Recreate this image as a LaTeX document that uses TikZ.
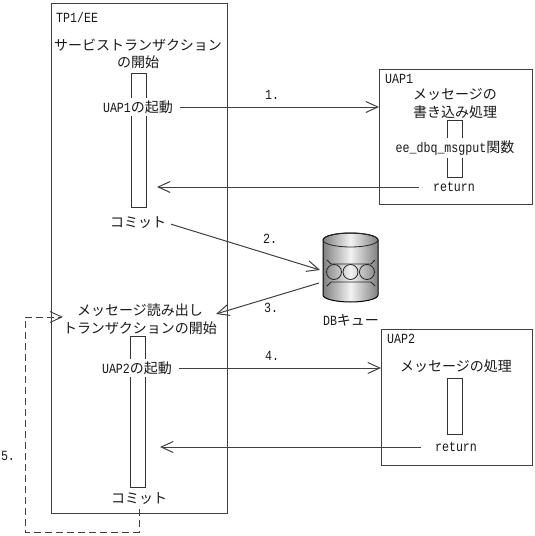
\documentclass[tikz,border=0pt]{standalone}
\usepackage{fontspec}
\setmainfont{Noto Sans CJK JP}
\newfontfamily\latfont[FakeStretch=0.83]{Liberation Mono}
\newcommand{\lat}[1]{{\latfont\fontsize{14}{17}\selectfont #1}}
\usetikzlibrary{arrows.meta}
\begin{document}
\begin{tikzpicture}[
      x=1pt, y=-1pt,
      box/.style={rectangle, draw=black!75, line width=1pt, outer sep=0pt, inner sep=0pt},
      bar/.style={rectangle, draw=black!80, fill=white, line width=1pt, outer sep=0pt, inner sep=0pt, minimum width=15},
      txt/.style={inner sep=1pt, align=center, text=black!90, font=\fontsize{14}{17.5}\selectfont},
      cover/.style={txt, fill=white, inner ysep=3pt},
      flow/.style={draw=black!75, line width=1pt, -{Straight Barb[length=12pt,width=11pt]}},
      dbbody/.style={draw=black, line width=1pt, left color=black!50, right color=black!50, middle color=black!5},
      dbmark/.style={draw=black!85, line width=0.8pt}
    ]
    \useasboundingbox (0,0) rectangle (535,536);
    \node[box, minimum width=176, minimum height=510] (tp) at (139,258) {};
    \node[box, minimum width=153, minimum height=135] (uapa) at (455.5,136.5) {};
    \node[box, minimum width=151, minimum height=136] (uapb) at (456.5,397) {};

    \node[bar, minimum height=134] (bara) at (138.5,140) {};
    \node[bar, minimum height=151] (barb) at (137.5,411.5) {};
    \node[bar, minimum height=57] (barc) at (454.5,148.5) {};
    \node[bar, minimum height=56] (bard) at (455,406) {};

    \node[txt, anchor=west] (tptitle) at (55,17) {\lat{TP1/EE}};
    \node[txt] (svcstart) at (138,54) {サービストランザクション\\の開始};
    \node[cover] (starta) at (138,107) {\lat{UAP1}の起動};
    \node[txt] (commita) at (138,223) {コミット};
    \node[txt] (readstart) at (140,319) {メッセージ読み出し\\トランザクションの開始};
    \node[cover] (startb) at (137,368) {\lat{UAP2}の起動};
    \node[txt] (commitb) at (139,499) {コミット};

    \node[txt, anchor=west] (uapatitle) at (384,79) {\lat{UAP1}};
    \node[txt] (writeproc) at (455,103.5) {メッセージの\\書き込み処理};
    \node[cover] (putfunc) at (455,148) {\lat{ee\_dbq\_msgput}関数};
    \node[txt] (returna) at (454,187) {\lat{return}};
    \node[txt, anchor=west] (uapbtitle) at (386,339) {\lat{UAP2}};
    \node[txt] (msgproc) at (456,366) {メッセージの処理};
    \node[txt] (returnb) at (456,447) {\lat{return}};

    \draw[dbbody] (323,240) -- (323,295) arc (180:360:27.5pt and 7pt) -- (378,240) arc (0:180:27.5pt and 7pt) -- cycle;
    \draw[dbmark] (350.5,240) ellipse (27.5pt and 7pt);
    \foreach \cx in {334,350.5,367}
      \draw[dbmark] (\cx,272) circle (7.5);
    \draw[dbmark] (327,260) -- (331,264) -- (371,264) -- (375,260);
    \draw[dbmark] (327,286) -- (331,282) -- (371,282) -- (375,286);
    \node[txt] (dblabel) at (351,320) {\lat{DB}キュー};

    \coordinate (backa) at (157,187);
    \coordinate (backb) at (160,447);
    \coordinate (dbin) at (320,270);
    \coordinate (dbout) at (319,283);
    \coordinate (readin) at (216,314);
    \coordinate (retryin) at (63,317);
    \coordinate (retrya) at (139,532);
    \coordinate (retryb) at (25,532);
    \coordinate (retryc) at (25,317);

    \draw[flow, shorten <=6pt] (starta.east) -- (starta.east -| uapa.west);
    \draw[flow, shorten <=13pt] (returna.west) -- (backa);
    \draw[flow, shorten <=4pt] (commita.east) -- (dbin);
    \draw[flow] (dbout) -- (readin);
    \draw[flow, shorten <=6pt] (startb.east) -- (startb.east -| uapb.west);
    \draw[flow, shorten <=13pt] (returnb.west) -- (backb);
    \draw[flow, dash pattern=on 7pt off 4pt, line width=0.9pt, shorten <=3pt] (commitb.south) -- (retrya) -- (retryb) -- (retryc) -- (retryin);

    \node[txt] (stepa) at (272,95) {\lat{1.}};
    \node[txt] (stepb) at (270,239) {\lat{2.}};
    \node[txt] (stepc) at (271,308) {\lat{3.}};
    \node[txt] (stepd) at (272,356) {\lat{4.}};
    \node[txt] (stepe) at (8,456) {\lat{5.}};
  \end{tikzpicture}
\end{document}
